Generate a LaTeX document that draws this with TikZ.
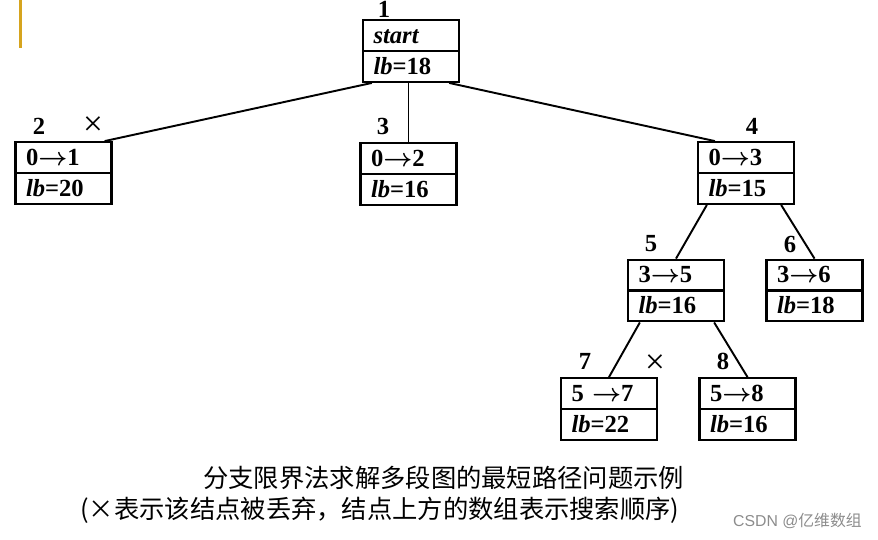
\documentclass[tikz,border=0pt]{standalone}
\usepackage{amsmath}
\usepackage{fontspec}
\setmainfont{Liberation Serif}
\newfontfamily\cjk{Noto Sans CJK SC}
\newfontfamily\wmfont{Liberation Sans}
\usetikzlibrary{shapes.multipart}
\definecolor{barorange}{RGB}{214,164,30}
\newcommand\bstrut{\rule[-0.13cm]{0pt}{0.57cm}}
\newcommand\arr{$\boldsymbol{\rightarrow}$}

\begin{document}
\begin{tikzpicture}[x=0.02cm,y=-0.02cm,
        bnode/.style={rectangle split, rectangle split parts=2, draw, line width=1.3pt,
            text width=1.5cm, align=left, inner xsep=0.21cm, inner ysep=0pt,
            font=\fontsize{14}{16}\selectfont\bfseries},
        num/.style={font=\fontsize{14}{16}\selectfont\bfseries, inner sep=0pt},
        cut/.style={font=\fontsize{20}{20}\selectfont, inner sep=0pt},
        edge/.style={line width=1.1pt}]

        \useasboundingbox (0,0) rectangle (878,539);
        \fill[barorange] (19,0) rectangle (21.5,48);

        \node[bnode] (n1) at (411,51) {\bstrut\textit{start}\nodepart{two}\bstrut\textit{lb}=18};
        \node[bnode] (n2) at (63.5,173) {\bstrut 0\arr 1\nodepart{two}\bstrut\textit{lb}=20};
        \node[bnode] (n3) at (408.5,174) {\bstrut 0\arr 2\nodepart{two}\bstrut\textit{lb}=16};
        \node[bnode] (n4) at (746,173) {\bstrut 0\arr 3\nodepart{two}\bstrut\textit{lb}=15};
        \node[bnode] (n5) at (676,290.5) {\bstrut 3\arr 5\nodepart{two}\bstrut\textit{lb}=16};
        \node[bnode] (n6) at (814.5,290.5) {\bstrut 3\arr 6\nodepart{two}\bstrut\textit{lb}=18};
        \node[bnode] (n7) at (609,409) {\bstrut 5 \arr 7\nodepart{two}\bstrut\textit{lb}=22};
        \node[bnode] (n8) at (747.5,409) {\bstrut 5\arr 8\nodepart{two}\bstrut\textit{lb}=16};

        \node[num, anchor=south] (l1) at (384,17.5) {1};
        \node[num] (l2) at (39,126) {2};
        \node[num] (l3) at (383,126) {3};
        \node[num] (l4) at (752,126) {4};
        \node[num] (l5) at (651,244) {5};
        \node[num] (l6) at (790,244) {6};
        \node[num] (l7) at (585,361) {7};
        \node[num] (l8) at (723,361) {8};

        \node[cut] (x2) at (93,126) {×};
        \node[cut] (x7) at (655,364) {×};

        \draw[edge] ([xshift=0.2cm]n1.south west) -- ([xshift=-0.16cm]n2.north east);
        \draw[edge] (n3.north |- n1.south) -- (n3.north);
        \draw[edge] ([xshift=-0.22cm]n1.south east) -- ([xshift=0.36cm]n4.north west);
        \draw[edge] ([xshift=0.2cm]n4.south west) -- (n5.north);
        \draw[edge] ([xshift=-0.28cm]n4.south east) -- (n6.north);
        \draw[edge] ([xshift=0.26cm]n5.south west) -- (n7.north);
        \draw[edge] ([xshift=-0.22cm]n5.south east) -- (n8.north);

        \node[anchor=west, inner sep=0pt, font=\fontsize{14.4}{16}\selectfont\cjk] (cap1) at (203,478)
            {分支限界法求解多段图的最短路径问题示例};
        \node[anchor=west, inner sep=0pt, font=\fontsize{14.4}{16}\selectfont\cjk] (cap2) at (80,510)
            {(×表示该结点被丢弃，结点上方的数组表示搜索顺序)};
        \node[anchor=east, inner sep=0pt, text=black!45, font=\fontsize{9}{10}\selectfont] (wm) at (862,521)
            {\wmfont CSDN @\cjk 亿维数组};
    \end{tikzpicture}
\end{document}
